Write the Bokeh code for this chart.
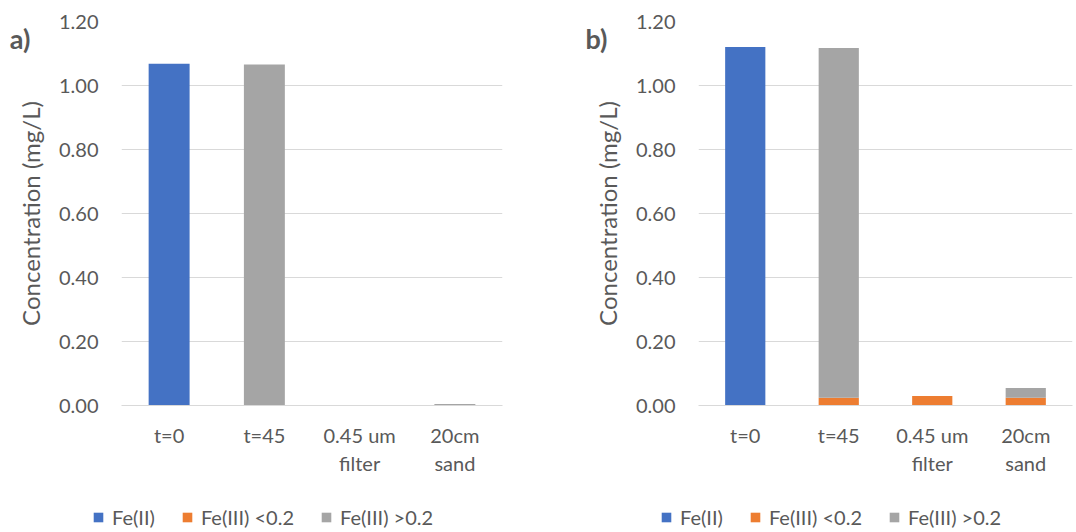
from bokeh.plotting import figure
from bokeh.models import (FactorRange, Range1d, Legend, LegendItem, LinearAxis,
                          NumeralTickFormatter, FixedTicker, ColumnDataSource)
from bokeh.layouts import row, column
from bokeh.embed import file_html
from bokeh.resources import INLINE

categories = ["t=0", "t=45", "0.45 um\nfilter", "20cm\nsand"]
series = ["Fe(II)", "Fe(III) <0.2", "Fe(III) >0.2"]
colors = ["#4472C4", "#ED7D31", "#A5A5A5"]

a_fe2 = [1.068, 0.0, 0.0, 0.0]
a_fe3_small = [0.0, 0.0, 0.0, 0.0]
a_fe3_large = [0.0, 1.066, 0.0, 0.005]

b_fe2 = [1.120, 0.0, 0.0, 0.0]
b_fe3_small = [0.0, 0.024, 0.030, 0.024]
b_fe3_large = [0.0, 1.093, 0.0, 0.031]

y_ticks = [0.0, 0.2, 0.4, 0.6, 0.8, 1.0, 1.2]

FONT = "Lato"
TXT = "#595959"
LEG_H = 40


def make_panel(tag, fe2, fe3s, fe3l, width, left, right):
    src = ColumnDataSource(dict(cat=categories, s0=fe2, s1=fe3s, s2=fe3l))
    p = figure(x_range=FactorRange(*categories, range_padding=0.0),
               y_range=Range1d(0, 1.2), width=width, height=532 - LEG_H,
               output_backend="svg", toolbar_location=None,
               min_border_left=left, min_border_right=right,
               min_border_top=21, min_border_bottom=127 - LEG_H)
    p.vbar_stack(["s0", "s1", "s2"], x="cat", width=0.43, color=colors,
                 line_color=None, source=src)
    p.outline_line_color = None
    p.xgrid.grid_line_color = None
    p.ygrid.grid_line_color = "#d9d9d9"
    p.ygrid.grid_line_width = 1
    p.yaxis.ticker = FixedTicker(ticks=y_ticks)
    p.yaxis.formatter = NumeralTickFormatter(format="0.00")
    p.yaxis.axis_line_color = None
    p.yaxis.major_tick_line_color = None
    p.yaxis.minor_tick_line_color = None
    p.yaxis.major_tick_out = 0
    p.yaxis.minor_tick_out = 0
    p.yaxis.major_label_standoff = 23
    p.yaxis.axis_label = "Concentration (mg/L)"
    p.yaxis.axis_label_standoff = 11
    p.yaxis.axis_label_text_font = FONT
    p.yaxis.axis_label_text_font_style = "normal"
    p.yaxis.axis_label_text_font_size = "24px"
    p.yaxis.axis_label_text_color = TXT
    p.xaxis.axis_line_color = "#d9d9d9"
    p.xaxis.major_tick_line_color = None
    p.xaxis.minor_tick_line_color = None
    p.xaxis.major_tick_out = 0
    p.xaxis.minor_tick_out = 0
    p.xaxis.major_label_standoff = 17
    p.xaxis.major_label_text_line_height = 1.2
    for ax in (p.xaxis, p.yaxis):
        ax.major_label_text_font = FONT
        ax.major_label_text_font_size = "20px"
        ax.major_label_text_color = TXT

    tag_axis = LinearAxis(ticker=FixedTicker(ticks=[]),
                          axis_line_color=None, major_tick_out=0,
                          minor_tick_out=0, major_label_standoff=0,
                          axis_label="\n" + tag, axis_label_standoff=-18,
                          axis_label_orientation="horizontal",
                          axis_label_align="end",
                          axis_label_text_line_height=1.0,
                          axis_label_text_font=FONT,
                          axis_label_text_font_style="bold",
                          axis_label_text_font_size="27px",
                          axis_label_text_color=TXT)
    p.add_layout(tag_axis, "left")
    return p


def make_legend(width, x0):
    lf = figure(width=width, height=LEG_H, x_range=Range1d(0, 1),
                y_range=Range1d(0, 1), x_axis_type=None, y_axis_type=None,
                output_backend="svg", toolbar_location=None,
                min_border=0, frame_align=False)
    lf.outline_line_color = None
    items = []
    for s, c in zip(series, colors):
        r = lf.vbar(x=[-5.0], top=[-5.0], width=0.1, color=c, line_color=None)
        items.append(LegendItem(label=s, renderers=[r]))
    leg = Legend(items=items, orientation="horizontal",
                 location=(x0, 3), padding=0, margin=0,
                 border_line_color=None, background_fill_alpha=0,
                 glyph_width=12, glyph_height=12, label_standoff=8,
                 spacing=26, label_height=20,
                 label_text_font=FONT, label_text_font_size="20px",
                 label_text_color=TXT)
    lf.add_layout(leg, "center")
    return lf


pa = make_panel("a)", a_fe2, a_fe3_small, a_fe3_large, 538, 121, 36)
pb = make_panel("b)", b_fe2, b_fe3_small, b_fe3_large, 538, 160, 4)
la = make_legend(538, 92)
lb = make_legend(538, 122)

layout = row(column(pa, la), column(pb, lb))
open("out.html", "w").write(file_html(layout, INLINE))
